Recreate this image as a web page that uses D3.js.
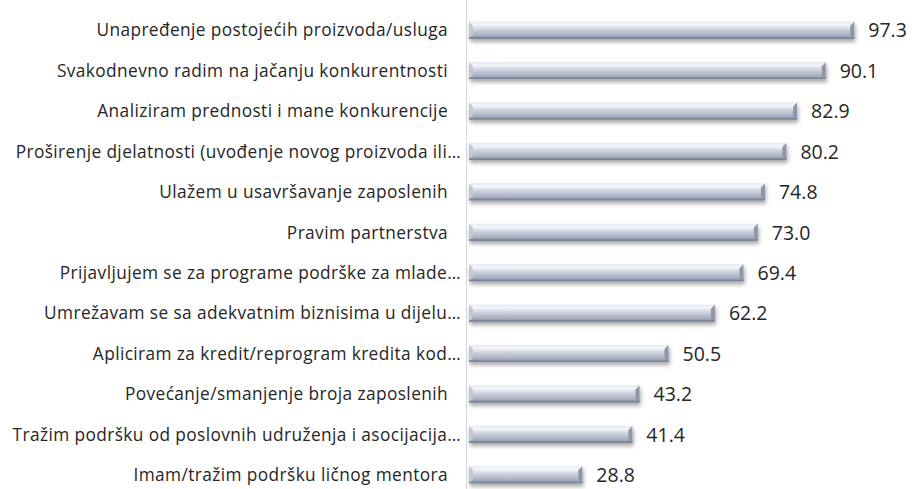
<!DOCTYPE html>
<html lang="sr">
  <head>
    <meta charset="utf-8">
    <title>Aktivnosti</title>
    <script type="text/javascript" src="https://cdn.jsdelivr.net/npm/d3@7"></script>
    <style type="text/css">
      body { margin: 0; background: #fff; }
      text { font-family: "Open Sans", "Noto Sans", sans-serif; fill: #262626; }
    </style>
  </head>
  <body>
    <script type="text/javascript">

      //Width and height
      var w = 915;
      var h = 489;

      //Data
      var categories = [
        "Unapređenje postojećih proizvoda/usluga",
        "Svakodnevno radim na jačanju konkurentnosti",
        "Analiziram prednosti i mane konkurencije",
        "Proširenje djelatnosti (uvođenje novog proizvoda ili…",
        "Ulažem u usavršavanje zaposlenih",
        "Pravim partnerstva",
        "Prijavljujem se za programe podrške za mlade…",
        "Umrežavam se sa adekvatnim biznisima u dijelu…",
        "Apliciram za kredit/reprogram kredita kod…",
        "Povećanje/smanjenje broja zaposlenih",
        "Tražim podršku od poslovnih udruženja i asocijacija…",
        "Imam/tražim podršku ličnog mentora"
      ];
      var values = [97.3, 90.1, 82.9, 80.2, 74.8, 73.0, 69.4, 62.2, 50.5, 43.2, 41.4, 28.8];

      var x0 = 468;

      var xScale = d3.scaleLinear()
                     .domain([0, 100])
                     .range([x0, x0 + 397]);

      var yScale = d3.scaleBand()
                     .domain(categories)
                     .range([10, 495])
                     .paddingInner(0.58)
                     .paddingOuter(0.29);

      //Create SVG element
      var svg = d3.select("body")
                  .append("svg")
                  .attr("width", w)
                  .attr("height", h);

      var defs = svg.append("defs");

      var grad = defs.append("linearGradient")
                     .attr("id", "barGrad")
                     .attr("x1", 0).attr("y1", 0)
                     .attr("x2", 0).attr("y2", 1);
      grad.append("stop").attr("offset", "0%").attr("stop-color", "#e3e7ef");
      grad.append("stop").attr("offset", "18%").attr("stop-color", "#f6f7fb");
      grad.append("stop").attr("offset", "45%").attr("stop-color", "#cdd2de");
      grad.append("stop").attr("offset", "80%").attr("stop-color", "#a7afc1");
      grad.append("stop").attr("offset", "100%").attr("stop-color", "#7d879c");

      var shadow = defs.append("filter")
                       .attr("id", "shadow")
                       .attr("x", "-5%").attr("y", "-30%")
                       .attr("width", "110%").attr("height", "190%");
      shadow.append("feGaussianBlur").attr("in", "SourceAlpha").attr("stdDeviation", 2).attr("result", "b");
      shadow.append("feOffset").attr("in", "b").attr("dx", 1).attr("dy", 3).attr("result", "o");
      shadow.append("feComponentTransfer").attr("in", "o").attr("result", "s")
            .append("feFuncA").attr("type", "linear").attr("slope", 0.35);
      var merge = shadow.append("feMerge");
      merge.append("feMergeNode").attr("in", "s");
      merge.append("feMergeNode").attr("in", "SourceGraphic");

      //Axis line
      svg.append("line")
         .attr("x1", x0 - 1.5).attr("x2", x0 - 1.5)
         .attr("y1", 0).attr("y2", h)
         .style("stroke", "#d9d9d9")
         .style("stroke-width", 1);

      var rows = svg.selectAll("g.row")
                    .data(values)
                    .enter()
                    .append("g")
                    .attr("class", "row")
                    .attr("transform", function(d, i) {
                      return "translate(0," + yScale(categories[i]) + ")";
                    });

      var bh = yScale.bandwidth();

      var bars = rows.append("g").attr("filter", "url(#shadow)");

      bars.append("rect")
          .attr("x", xScale(0) + 1)
          .attr("y", 0)
          .attr("width", function(d) { return xScale(d) - xScale(0) - 1; })
          .attr("height", bh)
          .style("fill", "url(#barGrad)");

      //bevel at left and right ends
      bars.append("path")
          .attr("d", function(d) {
            var xr = xScale(d), b = 4;
            return "M" + xr + ",0 L" + xr + "," + bh + " L" + (xr - b) + "," + (bh - b) + " L" + (xr - b) + "," + b + "Z";
          })
          .style("fill", "#8e96a8");
      bars.append("path")
          .attr("d", function(d) {
            var xl = xScale(0) + 1, b = 4;
            return "M" + xl + ",0 L" + (xl + b) + "," + b + " L" + (xl + b) + "," + (bh - b) + " L" + xl + "," + bh + "Z";
          })
          .style("fill", "#c3c8d4");
      bars.append("rect")
          .attr("x", xScale(0) + 1)
          .attr("y", bh - 1.5)
          .attr("width", function(d) { return xScale(d) - xScale(0) - 1; })
          .attr("height", 1.5)
          .style("fill", "#7a8397");

      //Category labels
      rows.append("text")
          .attr("x", function(d, i) {
            return /…$/.test(categories[i]) ? x0 - 7 : x0 - 20;
          })
          .attr("y", bh / 2)
          .attr("dy", "0.36em")
          .attr("text-anchor", "end")
          .style("font-size", "17.3px")
          .style("letter-spacing", "0.4px")
          .text(function(d, i) { return categories[i]; });

      //Value labels
      rows.append("text")
          .attr("x", function(d) { return xScale(d) + 14; })
          .attr("y", bh / 2)
          .attr("dy", "0.37em")
          .style("font-size", "19.5px")
          .text(function(d) { return d3.format(".1f")(d); });

    </script>
  </body>
</html>
